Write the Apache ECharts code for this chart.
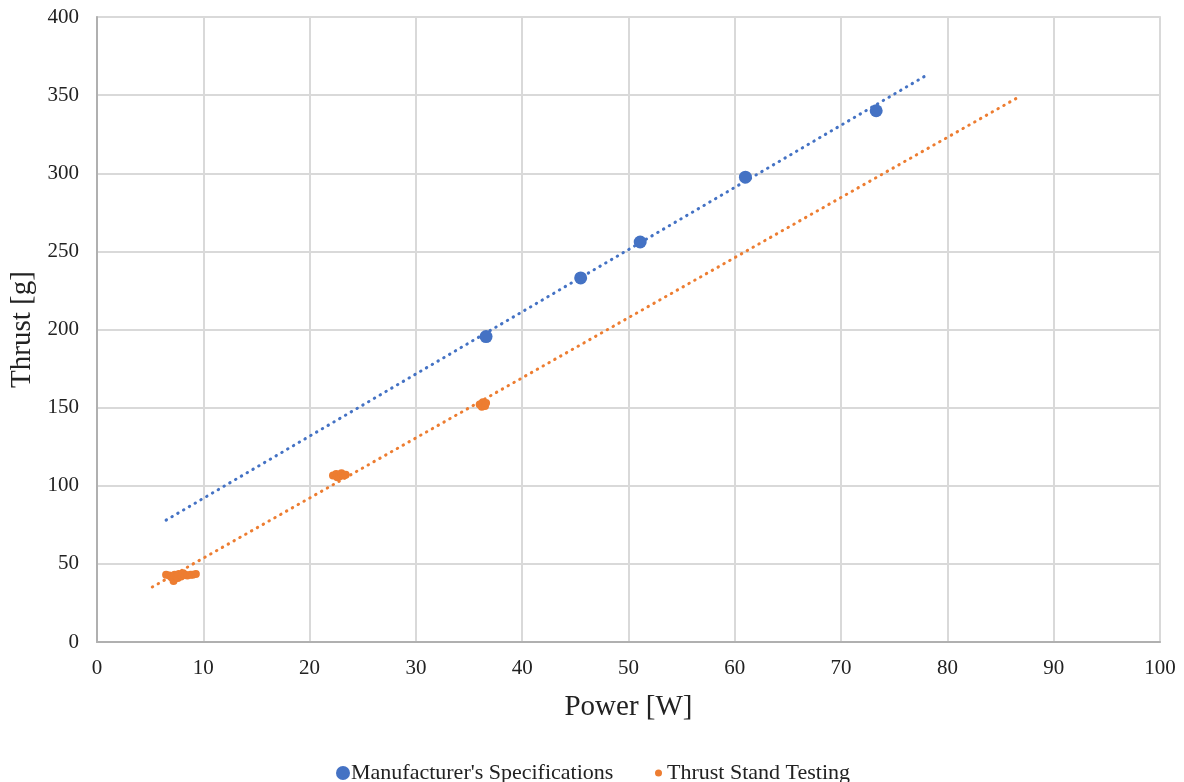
<!DOCTYPE html>
<html><head><meta charset="utf-8">
<script src="https://cdn.jsdelivr.net/npm/echarts@6/dist/echarts.min.js"></script>
<style>html,body{margin:0;padding:0;background:#fff}#c{width:1184px;height:782px}</style>
</head><body><div id="c"></div>
<script>
const mfrPower = [36.6, 45.5, 51.1, 61.0, 73.3];
const mfrThrust = [195.5, 233, 256, 297.5, 340];
const testPower = [6.5, 6.8, 7.0, 7.2, 7.3, 7.5, 7.6, 7.7, 7.9, 8.0, 8.1, 8.3, 8.5, 8.8, 9.0, 9.3,
  22.2, 22.5, 22.6, 22.8, 23.0, 23.2, 23.4,
  36.0, 36.2, 36.3, 36.5, 36.6];
const testThrust = [43, 42.5, 41.5, 39, 43, 42, 41, 43.5, 42, 42.5, 44, 43, 42.5, 43, 43, 43.5,
  106.5, 107.5, 105.5, 106, 108, 106.5, 107,
  152, 150.5, 153.5, 151, 153];
const mfrTrendX = [6.5, 78.1];
const mfrTrendY = [78, 363];
const testTrendX = [5.2, 86.5];
const testTrendY = [35.2, 348];
const xTicks = [0,10,20,30,40,50,60,70,80,90,100];
const yTicks = [0,50,100,150,200,250,300,350,400];

const zip = (a,b)=>a.map((v,i)=>[v,b[i]]);
const blue = '#4472c4', orange = '#ed7d31';
const font = 'Liberation Serif, Times New Roman, serif';
const chart = echarts.init(document.getElementById('c'));
chart.setOption({
  animation:false,
  grid:{left:97,right:24,top:17,bottom:140,containLabel:false,outerBoundsMode:'none',
    show:true,borderColor:'#c8c8c8',borderWidth:1.5},
  xAxis:{type:'value',min:xTicks[0],max:xTicks[xTicks.length-1],interval:10,
    name:'Power [W]',nameLocation:'middle',nameGap:51,
    nameTextStyle:{fontFamily:font,fontSize:29,color:'#222'},
    axisLine:{show:true,lineStyle:{color:'#b0b0b0',width:2}},axisTick:{show:false},
    axisLabel:{fontFamily:font,fontSize:21,color:'#222',margin:16},
    splitLine:{lineStyle:{color:'#d9d9d9',width:2}}},
  yAxis:{type:'value',min:yTicks[0],max:yTicks[yTicks.length-1],interval:50,
    name:'Thrust [g]',nameLocation:'middle',nameGap:58,nameRotate:90,
    nameTextStyle:{fontFamily:font,fontSize:29,color:'#222'},
    axisLine:{show:true,lineStyle:{color:'#b0b0b0',width:2}},axisTick:{show:false},
    axisLabel:{fontFamily:font,fontSize:21,color:'#222',margin:18},
    splitLine:{lineStyle:{color:'#d9d9d9',width:2}}},
  legend:[
    {data:[{name:"Manufacturer's Specifications",icon:'circle'}],left:331,top:757,itemWidth:14,itemHeight:14,itemGap:0,
     textStyle:{fontFamily:font,fontSize:22,color:'#222',padding:[0,0,0,-4]}},
    {data:[{name:'Thrust Stand Testing',icon:'circle'}],left:650,top:757,itemWidth:7,itemHeight:7,
     textStyle:{fontFamily:font,fontSize:22,color:'#222'}}
  ],
  series:[
    {name:"Manufacturer's Specifications Trend",type:'line',data:zip(mfrTrendX,mfrTrendY),symbol:'none',
     lineStyle:{color:blue,width:3,type:[0.5,6.2],cap:'round'},z:1,silent:true},
    {name:'Thrust Stand Testing Trend',type:'line',data:zip(testTrendX,testTrendY),symbol:'none',
     lineStyle:{color:orange,width:3,type:[0.5,6.2],cap:'round'},z:1,silent:true},
    {name:"Manufacturer's Specifications",type:'scatter',data:zip(mfrPower,mfrThrust),symbolSize:13,
     itemStyle:{color:blue,opacity:1},z:3},
    {name:'Thrust Stand Testing',type:'scatter',data:zip(testPower,testThrust),symbolSize:8,
     itemStyle:{color:orange,opacity:1},z:3}
  ]
});
</script></body></html>
